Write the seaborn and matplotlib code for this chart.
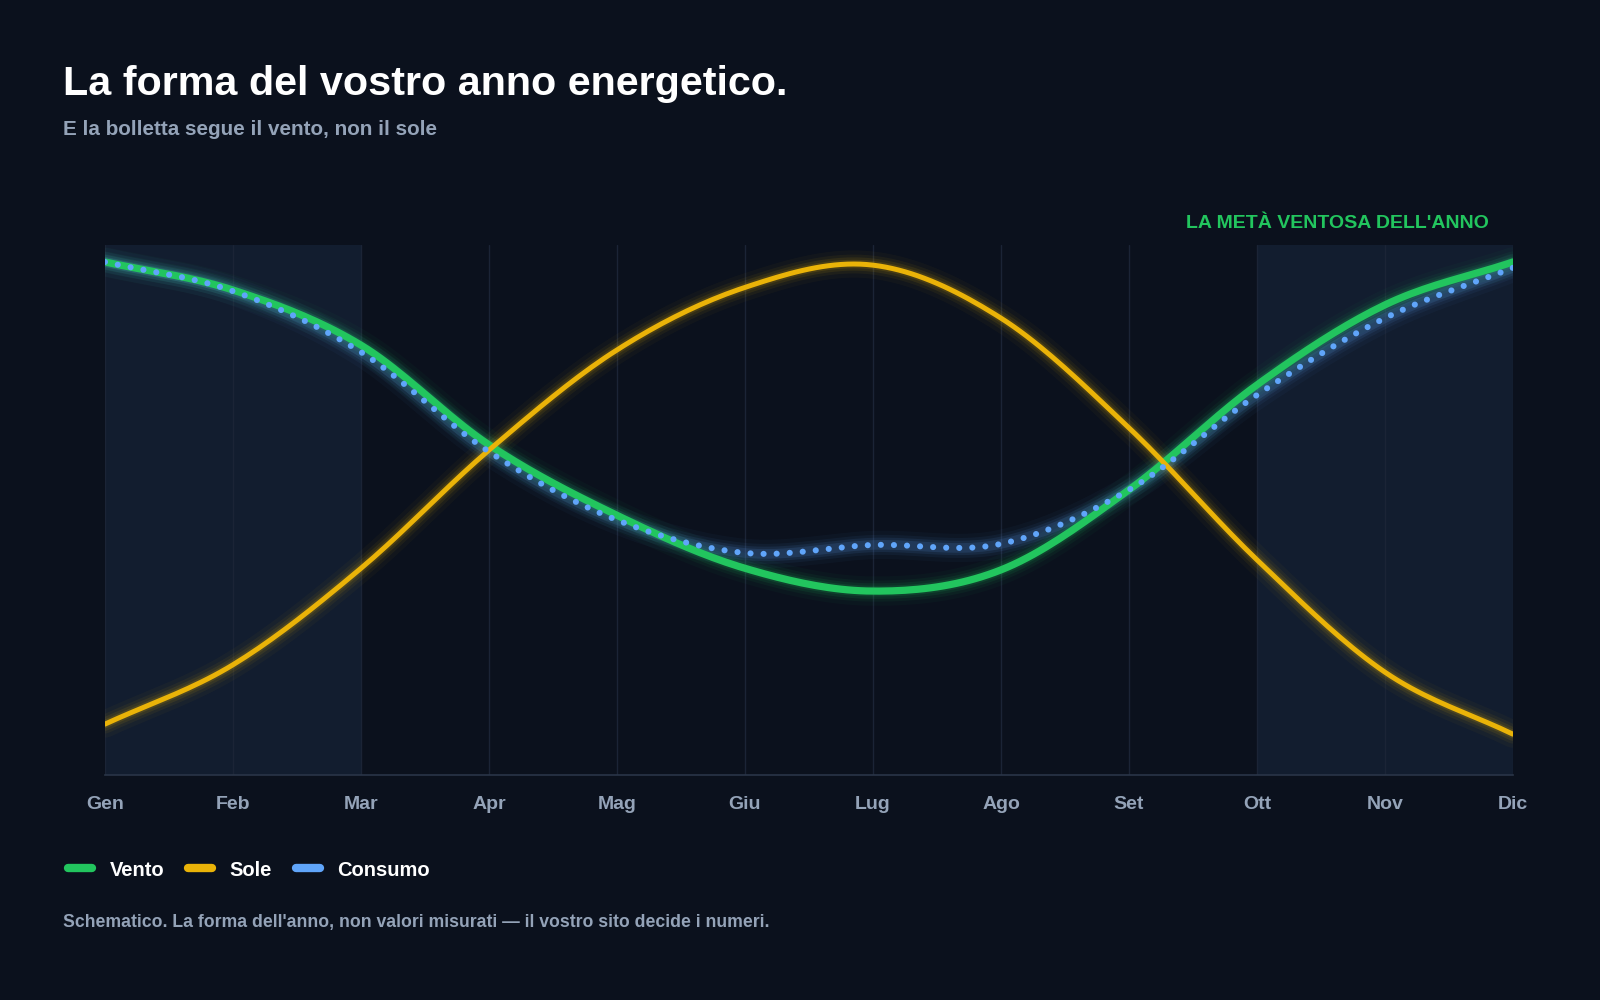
import numpy as np
import pandas as pd
import matplotlib
matplotlib.use("Agg")
import matplotlib.pyplot as plt
from matplotlib.lines import Line2D
import seaborn as sns

# dati schematici (0 = fondo, 100 = cima dell'area)
mesi = ["Gen", "Feb", "Mar", "Apr", "Mag", "Giu", "Lug", "Ago", "Set", "Ott", "Nov", "Dic"]
vento = [96.8, 91.5, 81.1, 62.3, 49.0, 39.0, 34.7, 38.7, 53.8, 73.6, 88.7, 96.8]
sole = [9.6, 20.8, 39.0, 61.3, 80.2, 92.0, 96.2, 86.2, 65.5, 40.6, 19.4, 7.7]
consumo = [96.8, 91.3, 79.8, 61.0, 48.1, 41.9, 43.4, 43.6, 53.8, 71.7, 86.2, 95.7]

BG = "#0b111d"
VERDE = "#22c55e"
GIALLO = "#eab308"
BLU = "#60a5fa"
GRIGIO = "#94a3b8"


def smooth(vals, n=20):
    # catmull-rom solo per il disegno della curva
    p = np.asarray(vals, dtype=float)
    p = np.concatenate([[2 * p[0] - p[1]], p, [2 * p[-1] - p[-2]]])
    xs, ys = [], []
    for i in range(1, len(p) - 2):
        t = np.linspace(0, 1, n, endpoint=False)
        p0, p1, p2, p3 = p[i - 1], p[i], p[i + 1], p[i + 2]
        y = 0.5 * ((2 * p1) + (-p0 + p2) * t + (2 * p0 - 5 * p1 + 4 * p2 - p3) * t ** 2
                   + (-p0 + 3 * p1 - 3 * p2 + p3) * t ** 3)
        xs.append(i - 1 + t)
        ys.append(y)
    xs.append([len(vals) - 1])
    ys.append([vals[-1]])
    return np.concatenate(xs), np.concatenate(ys)


sns.set_theme(style="dark")
plt.rcParams["font.family"] = ["Liberation Sans", "DejaVu Sans"]

fig = plt.figure(figsize=(16, 10), dpi=100, facecolor=BG)
ax = fig.add_axes([0.0656, 0.225, 0.88, 0.53])
ax.set_facecolor(BG)

# fasce ventose
ax.axvspan(0, 2, color="#121d2f", zorder=0, lw=0)
ax.axvspan(9, 11, color="#121d2f", zorder=0, lw=0)
for i in range(len(mesi)):
    ax.axvline(i, color="#1b2436", lw=1, zorder=1)

series = [("Vento", vento, VERDE, 5.2), ("Sole", sole, GIALLO, 3.6), ("Consumo", consumo, BLU, 4.4)]
for nome, vals, col, lw in series:
    xs, ys = smooth(vals)
    df = pd.DataFrame({"x": xs, "y": ys})
    # alone
    for w, a in [(lw + 16, 0.035), (lw + 10, 0.06), (lw + 6, 0.09), (lw + 2.5, 0.13)]:
        ax.plot(xs, ys, color=col, lw=w, alpha=a, solid_capstyle="round", zorder=2)
    if nome == "Consumo":
        sns.lineplot(data=df, x="x", y="y", ax=ax, color=col, lw=lw, zorder=4,
                     linestyle=(0, (0.01, 2.13)), dash_capstyle="round", sort=False)
    else:
        sns.lineplot(data=df, x="x", y="y", ax=ax, color=col, lw=lw, zorder=3,
                     solid_capstyle="round", sort=False)

ax.set_xlim(0, 11)
ax.set_ylim(0, 100)
ax.set_xticks(range(len(mesi)))
ax.set_xticklabels(mesi)
ax.set_yticks([])
ax.set_xlabel("")
ax.set_ylabel("")
ax.tick_params(axis="x", length=0, pad=15, labelsize=14, labelcolor=GRIGIO)
for lab in ax.get_xticklabels():
    lab.set_fontweight("bold")
for s in ["top", "left", "right"]:
    ax.spines[s].set_visible(False)
ax.spines["bottom"].set_color("#2a3548")
ax.spines["bottom"].set_linewidth(1.2)
ax.grid(False)

fig.text(1489 / 1600, 1 - 223 / 1000, "LA METÀ VENTOSA DELL'ANNO", color=VERDE,
         fontsize=14, fontweight="bold", ha="right", va="center")

fig.text(63 / 1600, 1 - 95 / 1000, "La forma del vostro anno energetico.", color="white",
         fontsize=29.7, fontweight="bold", ha="left", va="baseline")
fig.text(63 / 1600, 1 - 135 / 1000, "E la bolletta segue il vento, non il sole", color=GRIGIO,
         fontsize=14.9, fontweight="bold", ha="left", va="baseline")
fig.text(63 / 1600, 1 - 922 / 1000,
         "Schematico. La forma dell'anno, non valori misurati \u2014 il vostro sito decide i numeri.",
         color=GRIGIO, fontsize=12.7, fontweight="bold", ha="left", va="center")

handles = [Line2D([0], [0], color=c, lw=6, solid_capstyle="round") for _, _, c, _ in series]
leg = fig.legend(handles, [s[0] for s in series], loc="center left",
                 bbox_to_anchor=(50 / 1600, 1 - 870 / 1000), ncol=3, frameon=False,
                 handlelength=1.2, handletextpad=0.85, columnspacing=1.2,
                 prop={"size": 14.5, "weight": "bold"})
for t in leg.get_texts():
    t.set_color("white")

fig.savefig("out.png", dpi=100, facecolor=BG)
